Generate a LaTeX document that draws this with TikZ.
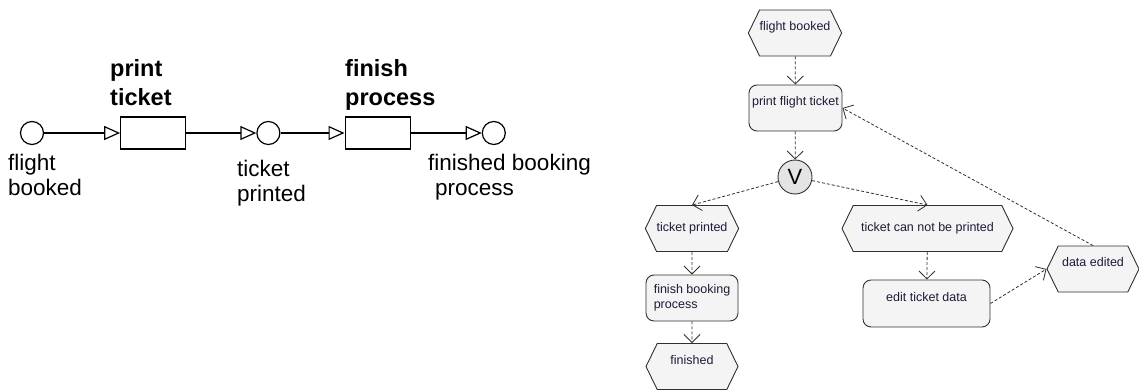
\documentclass[tikz,border=0pt]{standalone}
\usepackage{fontspec}
\setmainfont{Liberation Sans}
\usetikzlibrary{arrows.meta,positioning,shapes.symbols}
\definecolor{boxfill}{HTML}{F4F4F4}
\definecolor{xorfill}{HTML}{E4E4E4}
\definecolor{edgecol}{HTML}{303030}
\definecolor{textcol}{HTML}{1C1C38}

\begin{document}
\begin{tikzpicture}[x=1pt, y=-1pt, >=Stealth,
    place/.style={circle, draw, line width=1.2pt, minimum size=23pt, inner sep=0pt},
    trans/.style={rectangle, draw, line width=1.2pt, minimum width=65pt, minimum height=32pt, inner sep=0pt},
    flow/.style={line width=1.2pt, -{Triangle[open, length=16pt, width=14pt]}},
    lbl/.style={font=\fontsize{22.5}{25}\selectfont, align=left, inner sep=0pt},
    tlbl/.style={font=\fontsize{23.5}{29}\selectfont\bfseries, align=left, inner sep=0pt},
    event/.style={signal, signal to=west and east, signal pointer angle=128, draw=edgecol, fill=boxfill, line width=0.9pt, minimum width=92pt, minimum height=46pt, inner sep=0pt, font=\fontsize{12.5}{15}\selectfont, text=textcol},
    func/.style={rectangle, rounded corners=8pt, draw=edgecol, fill=boxfill, line width=0.9pt, minimum width=92pt, minimum height=46pt, inner sep=0pt, font=\fontsize{12.5}{15}\selectfont, text=textcol},
    uptext/.style={text depth=14pt},
    ctrl/.style={draw=edgecol, line width=0.8pt, dash pattern=on 3pt off 2pt, -{Straight Barb[length=8pt, width=16pt]}}
]
\useasboundingbox (0,0) rectangle (1139,390);

% left: net of places and transitions
\node[place] (booked) at (32,133) {};
\node[trans, right=76pt of booked] (print) {};
\node[place, right=70pt of print] (printed) {};
\node[trans, right=64pt of printed] (finish) {};
\node[place, right=71pt of finish] (done) {};

\node[tlbl, anchor=north west] (printlbl) at (110,59) {print\\ticket};
\node[tlbl, anchor=north west] (finishlbl) at (345,59) {finish\\process};
\node[lbl, anchor=north west] (bookedlbl) at (8,154) {flight\\booked};
\node[lbl, anchor=north west] (printedlbl) at (237,160) {ticket\\printed};
\node[lbl, anchor=north west] (donelbl) at (428,154) {finished booking\\\hspace*{7pt}process};

\draw[flow] (booked) -- (print);
\draw[flow] (print) -- (printed);
\draw[flow] (printed) -- (finish);
\draw[flow] (finish) -- (done);

% right: event-driven process chain
\node[event, uptext] (hbooked) at (795,33) {flight booked};
\node[func, uptext, minimum width=93pt] (hprint) at (795.5,108) {print flight ticket};
\node[circle, draw=edgecol, fill=xorfill, line width=0.9pt, minimum size=34pt, inner sep=0pt, font=\fontsize{22}{22}\selectfont] (xor) at (795,177) {V};
\node[event] (hprinted) at (692,228.5) {ticket printed};
\node[event, minimum width=171pt] (hfailed) at (927.5,228.5) {ticket can not be printed};
\node[func, align=left] (hfinish) at (692,298) {finish booking\\process};
\node[event, uptext] (hfinished) at (692,366.5) {finished};
\node[func, uptext, minimum width=127pt, minimum height=47pt] (hedit) at (926.5,303.5) {edit ticket data};
\node[event, uptext] (hedited) at (1093,269) {data edited};

\draw[ctrl] (hbooked) -- (hprint);
\draw[ctrl] (hprint) -- (xor);
\draw[ctrl] (xor) -- (hprinted.north);
\draw[ctrl] (xor) -- (hfailed.north);
\draw[ctrl] (hprinted) -- (hfinish);
\draw[ctrl] (hfinish) -- (hfinished);
\draw[ctrl] (hfailed) -- (hedit);
\draw[ctrl] (hedit.east) -- (hedited.west);
\draw[ctrl] (hedited.north) -- (hprint.east);
\end{tikzpicture}
\end{document}
